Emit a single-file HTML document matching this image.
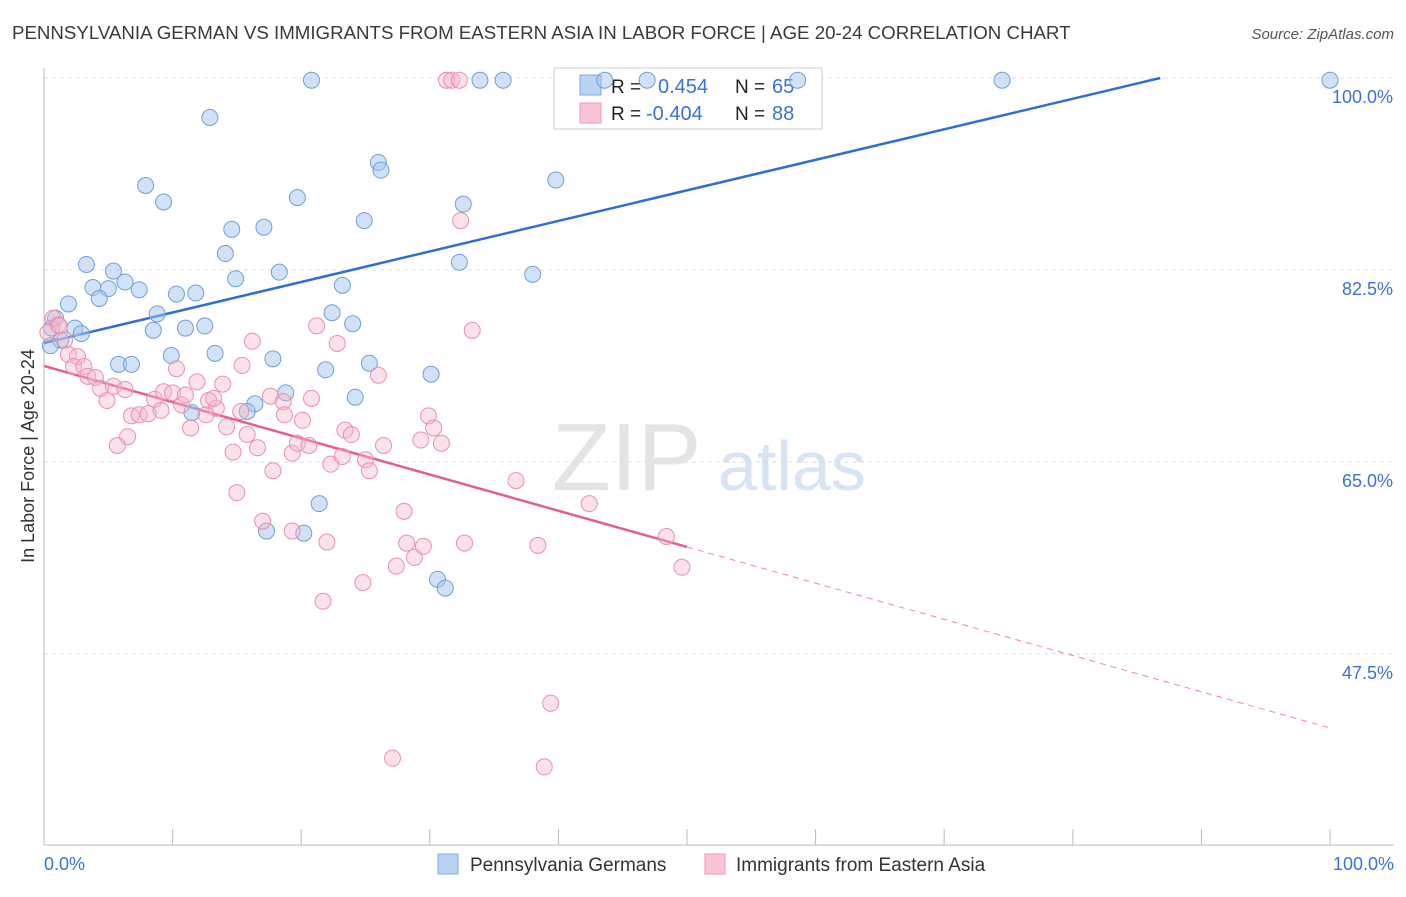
<!DOCTYPE html>
<html><head><meta charset="utf-8"><style>
body{margin:0;background:#fff;font-family:"Liberation Sans",sans-serif;}
svg text{font-family:"Liberation Sans",sans-serif;}
</style></head><body>
<svg id="chart" width="1406" height="892" viewBox="0 0 1406 892" xmlns="http://www.w3.org/2000/svg">
<text x="12" y="39" font-size="18.7" fill="#3a3a3a">PENNSYLVANIA GERMAN VS IMMIGRANTS FROM EASTERN ASIA IN LABOR FORCE | AGE 20-24 CORRELATION CHART</text>
<text x="1394" y="39" font-size="15" fill="#555" font-style="italic" text-anchor="end">Source: ZipAtlas.com</text>
<text x="552" y="490" font-size="96" fill="#e4e4e4" font-family="Liberation Serif">ZIP</text>
<text x="718" y="490" font-size="70" fill="#d6e4f4">atlas</text>
<text transform="translate(34,456) rotate(-90)" font-size="18" fill="#333" text-anchor="middle">In Labor Force | Age 20-24</text>
<g id="grid"></g><g id="axes"></g>
<g>
<rect x="554" y="68" width="268" height="61" fill="#fff" stroke="#ccc"/>
<rect x="580" y="75" width="21" height="20" fill="#b9d3f3" stroke="#7fa8e0"/>
<rect x="580" y="103" width="21" height="20" fill="#f9c6d5" stroke="#ec9ab4"/>
<text x="611" y="93" font-size="19" fill="#222">R = </text><text x="658" y="93" font-size="20" fill="#3a72d6">0.454</text>
<text x="735" y="93" font-size="19" fill="#222">N = </text><text x="772" y="93" font-size="20" fill="#3a72d6">65</text>
<text x="611" y="120" font-size="19" fill="#222">R = </text><text x="646" y="120" font-size="20" fill="#3a72d6">-0.404</text>
<text x="735" y="120" font-size="19" fill="#222">N = </text><text x="772" y="120" font-size="20" fill="#3a72d6">88</text>
</g>
<g id="lines"></g><g id="blue"></g><g id="pink"></g>
<g>
<rect x="438" y="854" width="20" height="20" fill="#b9d3f3" stroke="#7fa8e0"/>
<text x="470" y="871" font-size="19" fill="#333">Pennsylvania Germans</text>
<rect x="705" y="854" width="20" height="20" fill="#f9c6d5" stroke="#ec9ab4"/>
<text x="736" y="871" font-size="19" fill="#333">Immigrants from Eastern Asia</text>
</g>
<text x="44" y="870" font-size="18" fill="#3a72d6">0.0%</text>
<text x="1394" y="870" font-size="18" fill="#3a72d6" text-anchor="end">100.0%</text>
</svg>
<script>
const yTicks=[100,82.5,65,47.5];
const yTickLabels=["100.0%","82.5%","65.0%","47.5%"];
const xTicks=[0,10,20,30,40,50,60,70,80,90,100];
const blueX=[20.8,33.9,35.7,43.6,46.9,58.6,74.5,100,12.9,7.9,9.3,26.0,26.2,39.8,19.7,32.6,24.9,14.6,17.1,14.1,3.3,5.4,18.3,32.3,38.0,3.8,5.0,6.3,7.4,14.9,23.2,10.3,11.8,1.9,4.3,8.8,22.4,0.9,0.6,2.4,2.9,8.5,11.0,12.5,24.0,1.3,0.5,5.8,6.8,9.9,13.3,17.8,21.9,25.3,30.1,18.8,24.2,16.4,15.8,11.5,21.4,17.3,20.2,30.6,31.2];
const blueY=[99.8,99.8,99.8,99.8,99.8,99.8,99.8,99.8,96.4,90.2,88.7,92.3,91.6,90.7,89.1,88.5,87.0,86.2,86.4,84.0,83.0,82.4,82.3,83.2,82.1,80.9,80.8,81.4,80.7,81.7,81.1,80.3,80.4,79.4,79.9,78.5,78.6,78.1,77.2,77.2,76.7,77.0,77.2,77.4,77.6,76.1,75.6,73.9,73.9,74.7,74.9,74.4,73.4,74.0,73.0,71.3,70.9,70.3,69.6,69.5,61.2,58.7,58.5,54.3,53.5];
const pinkX=[31.3,31.7,32.3,32.4,33.3,0.7,1.1,0.3,1.2,1.6,1.9,2.6,2.3,3.1,3.4,4.0,4.4,4.9,5.4,6.3,6.8,7.4,6.5,5.7,8.1,8.6,9.3,10.0,9.1,10.3,10.7,11.4,11.9,11.0,12.8,13.4,12.6,13.9,13.2,14.2,14.7,15.0,15.3,15.4,16.2,15.8,16.6,17.6,18.6,17.8,17.0,18.7,19.3,19.7,20.1,20.8,20.6,21.2,22.3,22.8,23.2,23.4,23.9,25.0,25.3,26.0,26.4,19.3,22.0,21.7,24.8,28.0,28.2,28.8,27.4,29.5,29.3,29.9,30.3,30.9,32.7,36.7,42.4,38.4,48.4,49.6,39.4,27.1,38.9];
const pinkY=[99.8,99.8,99.8,87.0,77.0,78.1,77.5,76.8,77.4,76.1,74.8,74.6,73.7,73.7,72.8,72.7,71.7,70.6,71.9,71.6,69.2,69.3,67.3,66.5,69.4,70.7,71.4,71.3,69.7,73.5,70.2,68.1,72.3,71.1,70.6,69.9,69.3,72.1,70.8,68.2,65.9,62.2,69.6,73.8,76.0,67.5,66.3,71.0,70.5,64.2,59.6,69.3,65.8,66.7,68.8,70.8,66.5,77.4,64.8,75.8,65.5,67.9,67.5,65.2,64.2,72.9,66.5,58.7,57.7,52.3,54.0,60.5,57.6,56.3,55.5,57.3,67.0,69.2,68.1,66.7,57.6,63.3,61.2,57.4,58.2,55.4,43.0,38.0,37.2];
const blueTrend=[[0,75.84],[86.8,100]];
const pinkTrend=[[0,73.75],[50,57.25],[100,40.75]];
const NS="http://www.w3.org/2000/svg";
const X0=44,X1=1330,Y100=78,PXPCT=10.97;
function sx(v){return X0+v*(X1-X0)/100;}
function sy(v){return Y100+(100-v)*PXPCT;}
function mk(tag,attrs,parent){const e=document.createElementNS(NS,tag);for(const k in attrs)e.setAttribute(k,attrs[k]);document.getElementById(parent).appendChild(e);return e;}
yTicks.forEach((t,i)=>{
  const l=mk('line',{x1:44,x2:1394,y1:sy(t),y2:sy(t),stroke:'#dcdcdc','stroke-dasharray':'4,4'},'grid');
  
  
  const tx=mk('text',{x:1393,y:sy(t)+25,'font-size':18,fill:'#3a72d6','text-anchor':'end'},'grid');
  tx.textContent=yTickLabels[i];
  
  
});
const ax=mk('line',{x1:44,x2:1394,y1:845,y2:845,stroke:'#bbb'},'axes');


const ay=mk('line',{x1:44,x2:44,y1:68,y2:845,stroke:'#bbb'},'axes');


xTicks.forEach(t=>{
  const l=mk('line',{x1:sx(t),x2:sx(t),y1:829,y2:845,stroke:'#bbb'},'axes');
  
  
});
const bt=mk('line',{x1:sx(blueTrend[0][0]),y1:sy(blueTrend[0][1]),x2:sx(blueTrend[1][0]),y2:sy(blueTrend[1][1]),stroke:'#2f6fd3','stroke-width':2.5},'lines');


const pt=mk('line',{x1:sx(pinkTrend[0][0]),y1:sy(pinkTrend[0][1]),x2:sx(pinkTrend[1][0]),y2:sy(pinkTrend[1][1]),stroke:'#e4608c','stroke-width':2.5},'lines');


const pd=mk('line',{x1:sx(pinkTrend[1][0]),y1:sy(pinkTrend[1][1]),x2:sx(pinkTrend[2][0]),y2:sy(pinkTrend[2][1]),stroke:'#e88aa8','stroke-width':1,'stroke-dasharray':'6,5'},'lines');


blueX.forEach((v,i)=>{
  const c=mk('circle',{cx:sx(v),cy:sy(blueY[i]),r:8,fill:'rgba(165,198,238,0.5)',stroke:'#6e9fdc','stroke-width':1},'blue');
  
  
});
pinkX.forEach((v,i)=>{
  const c=mk('circle',{cx:sx(v),cy:sy(pinkY[i]),r:8,fill:'rgba(246,182,202,0.4)',stroke:'#e98fae','stroke-width':1},'pink');
  
  
});
</script>
</body></html>
